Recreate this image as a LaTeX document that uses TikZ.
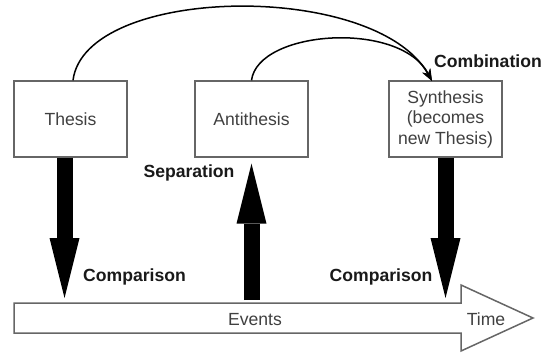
\documentclass[tikz,border=0pt]{standalone}
\usepackage{fontspec}
\setmainfont{Liberation Sans}
\usetikzlibrary{arrows.meta}

\begin{document}
\begin{tikzpicture}[x=1pt,y=-1pt,
                    font=\fontsize{17.6}{20.5}\selectfont,
                    box/.style={draw=black!60,line width=1.3pt,fill=white,
                                minimum width=113pt,minimum height=76pt,
                                align=center,text=black!75},
                    note/.style={font=\fontsize{17.6}{20.5}\selectfont\bfseries,text=black!90},
                    fat/.style={line width=16pt,
                                -{Triangle[length=60pt,width=30pt,line width=0pt]}},
                    hop/.style={line width=1.5pt,
                                -{Stealth[length=12pt,width=9pt,line width=0pt]}},
                    timeline/.style={draw=black!60,line width=1.5pt,fill=white}]
  \useasboundingbox (0,0) rectangle (544,353);

  \node[box] (thesis) at (70.5,119)  {Thesis};
  \node[box] (anti)   at (251.5,119) {Antithesis};
  \node[box] (synth)  at (445.5,119) {Synthesis\\(becomes\\new Thesis)};

  \draw[timeline] (14,303) -- (461,303) -- (461,285) -- (533,318)
                  -- (461,351) -- (461,333) -- (14,333) -- cycle;
  \node[text=black!75] (events) at (255,320) {Events};
  \node[text=black!75] (time)   at (486,319) {Time};

  \coordinate (cmp1) at (64.5,298);
  \coordinate (sep)  at (251.5,300);
  \coordinate (cmp2) at (445.5,298);

  \draw[fat] (thesis.south -| cmp1) -- (cmp1);
  \draw[fat,shorten >=6pt] (sep) -- (anti.south);
  \draw[fat] (synth.south) -- (cmp2);

  \coordinate (join) at (432,81);
  \draw[hop] ([xshift=2.5pt]thesis.north) .. controls (85,-15) and (375,-20) .. (join);
  \draw[hop] (anti.north) .. controls (258,30) and (400,20) .. (join);

  \node[note] (comb) at (488,61)  {Combination};
  \node[note] (sepl) at (189,173) {Separation};
  \node[note] (cmpl) at (134.5,277) {Comparison};
  \node[note] (cmpr) at (381,277) {Comparison};
\end{tikzpicture}
\end{document}
